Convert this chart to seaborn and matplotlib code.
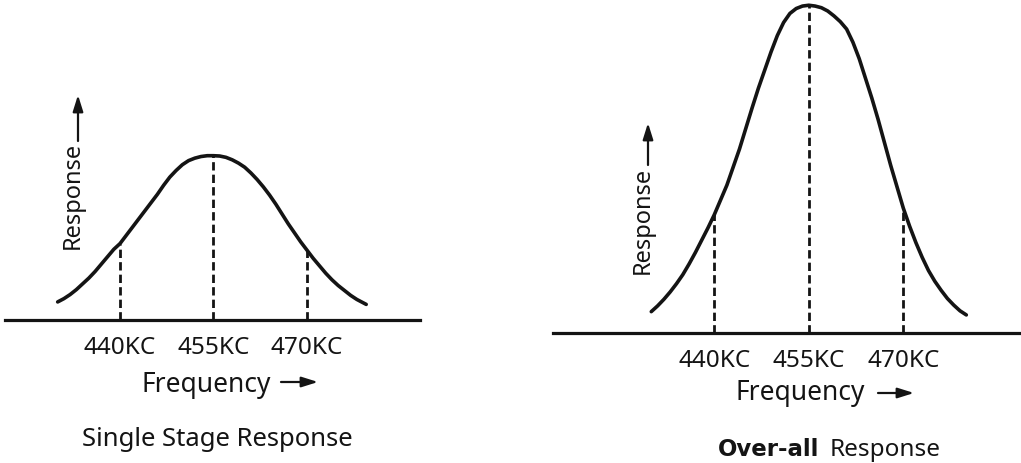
import pandas as pd
import matplotlib
matplotlib.use("Agg")
import matplotlib.pyplot as plt
import seaborn as sns

# Style
sns.set_theme(style="white")
plt.rcParams["font.family"] = ["Noto Sans", "DejaVu Sans"]

INK = "#141414"
W, H = 1021, 464

# Data (frequency in kc, response relative to single-stage peak)
mark_freq = [440, 455, 470]
mark_labels = ["440KC", "455KC", "470KC"]

single_freq = [430, 431, 432, 433, 434, 435, 436, 437, 438, 439, 440, 441, 442,
               443, 444, 445, 446, 447, 448, 449, 450, 451, 452, 453, 454, 455,
               456, 457, 458, 459, 460, 461, 462, 463, 464, 465, 466, 467, 468,
               469, 470, 471, 472, 473, 474, 475, 476, 477, 478, 479, 479.5]
single_resp = [0.11, 0.13, 0.155, 0.185, 0.22, 0.255, 0.295, 0.34, 0.385, 0.43,
               0.465, 0.515, 0.565, 0.615, 0.665, 0.715, 0.765, 0.82, 0.87, 0.91,
               0.945, 0.97, 0.985, 0.995, 1.0, 1.0, 0.998, 0.99, 0.975, 0.955,
               0.93, 0.895, 0.855, 0.81, 0.76, 0.705, 0.645, 0.585, 0.53, 0.475,
               0.425, 0.375, 0.33, 0.285, 0.245, 0.21, 0.18, 0.15, 0.125, 0.105,
               0.095]
single_mark_resp = [0.465, 1.0, 0.42]

overall_freq = [430, 431, 432, 433, 434, 435, 436, 437, 438, 439, 440, 441, 442,
                443, 444, 445, 446, 447, 448, 449, 450, 451, 452, 453, 454, 455,
                456, 457, 458, 459, 460, 461, 462, 463, 464, 465, 466, 467, 468,
                469, 470, 471, 472, 473, 474, 475, 476, 477, 478, 479, 480]
overall_resp = [0.13, 0.165, 0.205, 0.25, 0.30, 0.355, 0.42, 0.49, 0.565, 0.64,
                0.72, 0.81, 0.90, 1.01, 1.12, 1.245, 1.37, 1.49, 1.60, 1.71,
                1.81, 1.89, 1.945, 1.975, 1.99, 1.995, 1.99, 1.98, 1.96, 1.93,
                1.895, 1.85, 1.77, 1.67, 1.55, 1.43, 1.30, 1.16, 1.02, 0.89,
                0.76, 0.65, 0.55, 0.46, 0.38, 0.315, 0.26, 0.21, 0.17, 0.135,
                0.11]
overall_mark_resp = [0.73, 1.995, 0.74]


def px(x, y):
    """pixel position (from top-left) -> figure fraction"""
    return x / W, 1 - y / H


def box(x0, y_top, x1, y_bottom):
    return [x0 / W, 1 - y_bottom / H, (x1 - x0) / W, (y_bottom - y_top) / H]


def draw_panel(ax, freq, resp, mark_resp, xlim, ylim):
    df = pd.DataFrame({"Frequency": freq, "Response": resp})
    sns.lineplot(data=df, x="Frequency", y="Response", ax=ax, color=INK,
                 lw=2.6, clip_on=False, solid_joinstyle="round",
                 solid_capstyle="round")
    ax.vlines(mark_freq, 0, mark_resp, colors=INK, lw=2.0,
              linestyles=(0, (3, 1.5)))
    ax.set_xlim(xlim)
    ax.set_ylim(ylim)
    ax.set_xticks(mark_freq, mark_labels)
    ax.set_yticks([])
    ax.tick_params(axis="x", length=0, pad=10.5, labelsize=17.5, colors=INK)
    ax.set_xlabel("")
    ax.set_ylabel("")
    for s in ["top", "left", "right"]:
        ax.spines[s].set_visible(False)
    ax.spines["bottom"].set_linewidth(2.3)
    ax.spines["bottom"].set_color(INK)
    ax.patch.set_alpha(0)


def arrow(ax, start, end):
    ax.annotate("", xy=px(*end), xytext=px(*start), xycoords="figure fraction",
                textcoords="figure fraction", annotation_clip=False,
                arrowprops=dict(arrowstyle="-|>,head_length=0.7,head_width=0.22",
                                lw=1.6, color=INK, shrinkA=0, shrinkB=0,
                                mutation_scale=14))


fig = plt.figure(figsize=(W / 100, H / 100), dpi=100)
fig.patch.set_facecolor("white")

# Single stage panel
ax1 = fig.add_axes(box(5, 20, 420, 321))
draw_panel(ax1, single_freq, single_resp, single_mark_resp,
           (421.55, 488.13), (0, 1.832))

# Over-all panel
ax2 = fig.add_axes(box(553, 0, 1021, 334))
draw_panel(ax2, overall_freq, overall_resp, overall_mark_resp,
           (414.40, 488.68), (0, 2.033))

# Axis captions
fig.text(*px(73, 195), "Response", rotation=90, ha="center", va="center",
         fontsize=17, color=INK)
arrow(ax1, (78, 142), (78, 96))
fig.text(*px(643, 220), "Response", rotation=90, ha="center", va="center",
         fontsize=17, color=INK)
arrow(ax2, (648, 166), (648, 124))

fig.text(*px(141, 392), "Frequency", ha="left", va="baseline",
         fontsize=19, color=INK)
arrow(ax1, (281, 383), (318, 383))
fig.text(*px(736, 400), "Frequency", ha="left", va="baseline",
         fontsize=19, color=INK)
arrow(ax2, (878, 394), (914, 394))

# Panel titles
fig.text(*px(217, 446), "Single Stage Response", ha="center", va="baseline",
         fontsize=18.5, color=INK)
fig.text(*px(819, 456), "Over-all", ha="right", va="baseline",
         fontsize=16.5, fontweight="bold", family=["DejaVu Sans"], color=INK)
fig.text(*px(830, 456), "Response", ha="left", va="baseline",
         fontsize=17.5, color=INK)

fig.savefig("out.png", dpi=100, facecolor="white")
print("Saved out.png")
